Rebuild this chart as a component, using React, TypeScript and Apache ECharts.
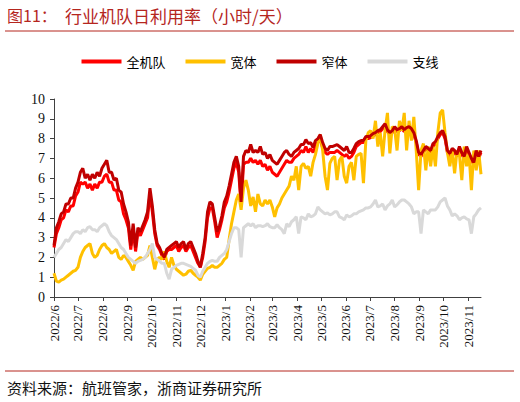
import { useEffect, useRef } from 'react';
import * as echarts from 'echarts';

// daily axis from 2022-06-01 to 2023-11-17, values read every 3 days
const FIRST_DAY = Date.UTC(2022, 5, 1);
const DAY_COUNT = 535;
const STEP = 3;

const seriesNames = ['全机队', '宽体', '窄体', '支线'];
const seriesColors = ['#ff0000', '#ffc000', '#c00000', '#d9d9d9'];
const yTicks = [0, 10, 1]; // min, max, interval

// 全机队
const fleet = [
  2.5, 3.2, 3.5, 3.9, 4.0, 4.4, 4.3, 4.6, 4.6, 5.1,
  5.3, 5.8, 5.7, 5.8, 5.5, 5.7, 5.4, 5.7, 5.5, 5.8, 5.8,
  6.1, 6.2, 5.8, 5.8, 5.4, 5.4, 4.9, 4.8, 4.2, 3.9,
  3.5, 2.4, 3.4, 2.3, 3.3, 3.1, 3.4, 3.7, 4.0, 5.2,
  4.3, 3.2, 2.6, 2.4, 2.1, 1.9, 2.3, 2.4, 2.4, 2.5,
  2.6, 2.3, 2.5, 2.6, 2.3, 2.5, 2.6, 2.3, 2.0, 1.7,
  1.5, 2.0, 2.8, 4.0, 4.5, 4.5, 3.8, 3.0, 3.4, 3.9, 4.5,
  4.8, 5.3, 5.9, 6.5, 6.8, 6.3, 4.6, 6.7, 6.8, 6.8,
  7.0, 6.8, 6.9, 6.7, 6.9, 6.6, 6.7, 6.4, 6.6,
  6.3, 6.2, 6.1, 6.3, 6.5, 6.7, 6.9, 6.8, 6.8, 7.0, 7.1,
  7.2, 7.4, 7.3, 7.6, 7.3, 7.5, 7.3, 7.6, 7.8, 8.0,
  7.5, 7.3, 7.2, 7.3, 7.3, 7.3, 7.4, 7.3, 7.2, 7.1,
  7.2, 7.0, 7.1, 7.3, 7.6, 7.7, 7.8, 7.8, 8.0, 8.0,
  8.05, 8.15, 8.2, 8.3, 8.35, 8.5, 8.6, 8.35, 8.2, 8.3,
  8.5, 8.35, 8.4, 8.5, 8.35, 8.45, 8.5, 8.4, 8.2, 7.8, 7.2,
  7.1, 7.3, 7.5, 7.4, 7.3, 7.6, 7.75, 8.0, 8.2, 8.3,
  8.0, 7.3, 7.1, 7.4, 7.3, 7.1, 7.5, 7.2, 7.0, 7.5,
  7.2, 6.9, 6.7, 7.3, 7.0, 7.3,
];

// 宽体
const wide = [
  1.2, 0.8, 0.75, 0.85, 0.9, 1.0, 1.1, 1.2, 1.3, 1.35,
  1.5, 2.0, 2.3, 2.5, 2.6, 2.7, 2.2, 2.0, 2.1, 2.4, 2.6,
  2.7, 2.5, 2.4, 2.2, 2.3, 2.4, 2.0, 1.9, 2.1, 2.0,
  1.8, 1.6, 1.35, 1.8, 1.9, 2.0, 1.9, 2.0, 2.1, 2.6,
  2.0, 1.4, 1.9, 2.0, 1.9, 2.3, 1.8, 1.5, 2.0, 1.6,
  1.4, 1.3, 1.2, 1.1, 1.15, 1.3, 1.35, 1.2, 1.1, 1.0,
  0.85, 1.15, 1.3, 1.45, 1.5, 1.6, 1.5, 1.5, 1.6, 1.7, 1.9,
  2.0, 2.9, 3.7, 4.3, 4.9, 5.2, 4.4, 5.5, 5.9, 5.4,
  4.6, 5.05, 4.3, 5.2, 4.7, 4.6, 4.9, 4.7, 4.9,
  4.55, 4.05, 4.5, 4.7, 5.0, 5.2, 5.4, 5.6, 6.1, 5.9, 6.6,
  5.4, 6.6, 6.75, 6.5, 6.6, 6.1, 6.8, 7.2, 7.75, 8.2,
  7.4, 6.1, 5.4, 6.75, 7.0, 7.1, 5.9, 6.9, 7.1, 6.1,
  5.75, 6.6, 6.8, 5.9, 7.1, 7.2, 7.25, 5.75, 7.9, 8.3,
  8.4, 8.0, 8.9, 7.6, 8.3, 7.1, 8.4, 9.3, 7.25, 8.6,
  8.5, 7.4, 8.9, 8.4, 9.3, 7.4, 8.9, 7.9, 9.1, 7.4, 5.4,
  7.4, 7.75, 6.4, 7.6, 6.6, 7.6, 6.6, 8.3, 9.3, 9.45,
  8.3, 7.3, 6.6, 7.4, 6.25, 7.4, 7.2, 5.9, 7.6, 6.6,
  7.25, 5.4, 7.4, 6.4, 7.4, 6.2,
];

// 窄体
const narrow = [
  2.6, 3.5, 3.8, 4.2, 4.3, 4.7, 4.7, 5.0, 5.0, 5.5,
  5.8, 6.3, 6.5, 6.0, 6.2, 5.9, 6.2, 6.0, 6.3, 6.1, 6.5,
  6.7, 6.9, 6.3, 6.3, 5.9, 6.0, 5.4, 5.3, 4.7, 4.3,
  3.8, 2.6, 3.7, 2.5, 3.5, 3.3, 3.6, 3.9, 4.3, 5.5,
  4.6, 3.4, 2.7, 2.5, 2.2, 2.0, 2.4, 2.5, 2.6, 2.7,
  2.8, 2.5, 2.7, 2.8, 2.4, 2.7, 2.8, 2.5, 2.2, 1.8,
  1.5, 2.2, 3.0, 4.3, 4.8, 4.7, 4.0, 3.3, 3.6, 4.1, 4.8,
  5.1, 5.6, 6.2, 6.8, 7.1, 6.6, 4.8, 7.1, 7.4, 7.3,
  7.7, 7.3, 7.4, 7.3, 7.6, 7.2, 7.3, 7.0, 7.2,
  6.9, 6.8, 6.7, 6.9, 7.1, 7.3, 7.4, 7.2, 7.1, 7.3, 7.4,
  7.5, 7.7, 7.7, 7.95, 7.75, 7.8, 7.55, 7.9, 8.0, 8.2,
  7.8, 7.5, 7.4, 7.6, 7.6, 7.65, 7.7, 7.6, 7.5, 7.4,
  7.6, 7.3, 7.3, 7.5, 7.75, 7.85, 7.9, 7.9, 8.1, 8.1,
  8.15, 8.25, 8.3, 8.4, 8.45, 8.6, 8.75, 8.45, 8.3, 8.4,
  8.6, 8.45, 8.5, 8.6, 8.45, 8.55, 8.6, 8.5, 8.3, 7.9, 7.3,
  7.2, 7.4, 7.6, 7.5, 7.4, 7.75, 7.85, 8.1, 8.3, 8.4,
  8.1, 7.4, 7.25, 7.5, 7.4, 7.2, 7.6, 7.3, 7.1, 7.6,
  7.3, 7.0, 6.8, 7.4, 7.1, 7.4,
];

// 支线
const regional = [
  2.0, 2.2, 2.4, 2.5, 2.7, 2.9, 2.8, 3.0, 3.2, 3.3,
  3.3, 3.2, 3.4, 3.3, 3.5, 3.55, 3.4, 3.4, 3.3, 3.5, 3.6,
  3.7, 3.6, 3.3, 3.1, 3.0, 2.9, 2.7, 2.5, 2.4, 2.2,
  2.0, 1.9, 1.8, 1.7, 1.8, 1.85, 1.9, 2.0, 2.2, 2.4,
  2.7, 2.0, 1.9, 1.8, 1.7, 1.7, 1.2, 0.9, 1.4, 1.5,
  1.6, 1.65, 1.7, 1.7, 1.65, 1.6, 1.55, 1.45, 1.35, 1.1,
  1.0, 1.3, 1.5, 1.7, 1.8, 1.85, 1.8, 1.8, 2.0, 2.1, 2.2,
  2.4, 2.8, 3.2, 3.5, 3.5, 3.4, 2.0, 3.5, 3.6, 3.7,
  3.6, 3.7, 3.5, 3.6, 3.6, 3.55, 3.6, 3.7, 3.55,
  3.5, 3.5, 3.65, 3.5, 3.4, 3.2, 3.7, 3.55, 3.8, 3.9, 4.05,
  3.2, 4.05, 4.0, 3.9, 4.2, 4.05, 4.1, 4.2, 4.55, 4.4,
  4.3, 4.2, 4.25, 4.15, 4.2, 4.3, 4.3, 4.05, 4.0, 3.9,
  4.15, 4.05, 4.1, 4.2, 4.2, 4.3, 4.35, 4.4, 4.5, 4.5,
  4.55, 4.7, 4.9, 4.55, 4.6, 4.7, 4.4, 4.6, 4.7, 4.9,
  4.55, 4.65, 4.8, 4.9, 4.9, 4.8, 4.7, 4.55, 4.2, 4.3, 4.3,
  3.2, 4.4, 4.3, 4.2, 4.4, 4.4, 4.4, 4.55, 4.8, 4.9,
  5.0, 4.6, 4.4, 4.1, 4.2, 4.1, 3.9, 4.0, 4.05, 3.95,
  3.9, 3.2, 4.05, 4.2, 4.4, 4.5,
];

const seriesValues = [fleet, wide, narrow, regional];

const titleColor = '#b5261e';
const serifFont = "'Liberation Serif', 'Times New Roman', serif";
const cjkFont = "'Noto Sans CJK SC', sans-serif";

function buildDays(): string[] {
  const days: string[] = [];
  for (let i = 0; i < DAY_COUNT; i++) {
    days.push(new Date(FIRST_DAY + i * 86400000).toISOString().slice(0, 10));
  }
  return days;
}

const isMonthStart = (_: number, value: string) => value.slice(8) === '01';

export default function App() {
  const chartRef = useRef<HTMLDivElement>(null);

  useEffect(() => {
    if (!chartRef.current) return;
    const chart = echarts.init(chartRef.current, undefined, { renderer: 'svg' });
    const days = buildDays();

    const option: echarts.EChartsOption = {
      animation: false,
      backgroundColor: '#fff',
      grid: { left: 54, right: 39, top: 99, bottom: 105 },
      legend: {
        data: seriesNames,
        top: 50,
        left: 'center',
        icon: 'rect',
        itemWidth: 40,
        itemHeight: 4,
        itemGap: 20,
        textStyle: { fontFamily: cjkFont, fontSize: 13, color: '#000' },
      },
      xAxis: {
        type: 'category',
        data: days,
        boundaryGap: false,
        axisLine: { lineStyle: { color: '#404040', width: 1 } },
        axisTick: { interval: isMonthStart, length: 4, lineStyle: { color: '#404040' } },
        axisLabel: {
          interval: isMonthStart,
          rotate: 90,
          margin: 8,
          fontFamily: serifFont,
          fontSize: 13,
          color: '#111',
          formatter: (v: string) => `${v.slice(0, 4)}/${Number(v.slice(5, 7))}`,
        },
        splitLine: { show: false },
      },
      yAxis: {
        type: 'value',
        min: yTicks[0],
        max: yTicks[1],
        interval: yTicks[2],
        axisLine: { show: true, lineStyle: { color: '#404040', width: 1 } },
        axisTick: { show: true, length: 4, lineStyle: { color: '#404040' } },
        axisLabel: { margin: 9, fontFamily: serifFont, fontSize: 14, color: '#111' },
        splitLine: { show: false },
      },
      series: seriesNames.map((name, k) => ({
        name,
        type: 'line',
        showSymbol: false,
        symbol: 'none',
        data: seriesValues[k].map((v, i) => [days[i * STEP], v]),
        lineStyle: { color: seriesColors[k], width: 3 },
        itemStyle: { color: seriesColors[k] },
      })),
      graphic: [
        {
          type: 'text',
          left: 7,
          top: 7,
          style: { text: '图11：', fontFamily: cjkFont, fontSize: 16, fill: titleColor },
        },
        {
          type: 'text',
          left: 65,
          top: 7,
          style: { text: '行业机队日利用率（小时/天）', fontFamily: cjkFont, fontSize: 17, fill: titleColor },
        },
        {
          type: 'line',
          shape: { x1: 5, y1: 31, x2: 514, y2: 31 },
          style: { stroke: titleColor, lineWidth: 1 },
        },
        {
          type: 'line',
          shape: { x1: 5, y1: 371, x2: 514, y2: 371 },
          style: { stroke: titleColor, lineWidth: 1 },
        },
        {
          type: 'text',
          left: 7,
          top: 380,
          style: { text: '资料来源：航班管家，浙商证券研究所', fontFamily: cjkFont, fontSize: 15, fill: '#111' },
        },
      ],
    };

    chart.setOption(option);
    return () => chart.dispose();
  }, []);

  return (
    <div
      ref={chartRef}
      style={{ position: 'fixed', left: 0, top: 0, width: 520, height: 402, background: '#fff' }}
    />
  );
}
